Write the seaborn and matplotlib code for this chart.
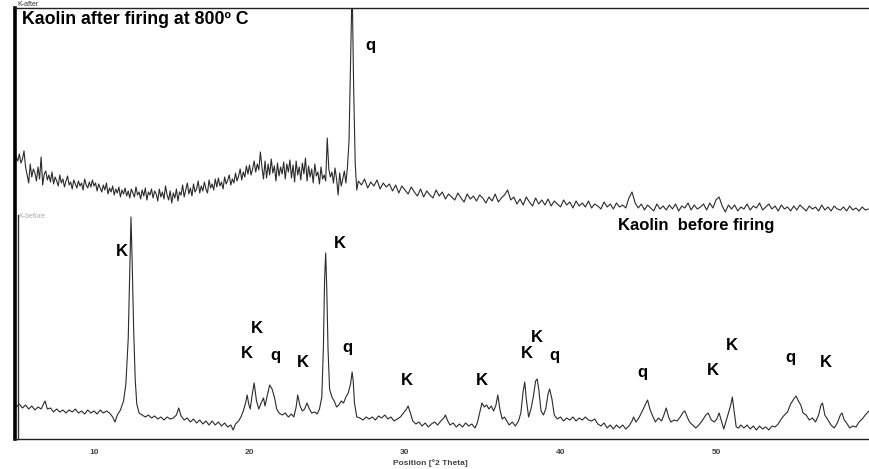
import numpy as np
import pandas as pd
import matplotlib
matplotlib.use("Agg")
import matplotlib.pyplot as plt
import seaborn as sns

# ---------------- data ----------------
# Kaolin before firing: 2-theta (deg) and intensity (arbitrary units)
before_2theta = [5.0, 5.2, 5.4, 5.6, 5.8, 6.0, 6.2, 6.4, 6.6, 6.85, 7.0, 7.2, 7.4, 7.6, 7.8, 8.0, 8.2, 8.4, 8.6, 8.8,
                 9.0, 9.2, 9.4, 9.6, 9.8, 10.0, 10.2, 10.4, 10.6, 10.8, 11.0, 11.2, 11.35, 11.5, 11.7, 11.9, 12.05,
                 12.2, 12.3, 12.38, 12.45, 12.55, 12.65, 12.75, 12.9, 13.1, 13.3, 13.5, 13.7, 13.9, 14.1, 14.3,
                 14.5, 14.7, 14.9, 15.1, 15.3, 15.45, 15.6, 15.8, 16.0, 16.2, 16.4, 16.6, 16.8, 17.0, 17.2, 17.4,
                 17.6, 17.8, 18.0, 18.2, 18.4, 18.6, 18.8, 18.95, 19.1, 19.3, 19.45, 19.6, 19.75, 19.85, 19.95,
                 20.05, 20.15, 20.3, 20.45, 20.6, 20.75, 20.9, 21.0, 21.15, 21.3, 21.45, 21.6, 21.75, 21.9, 22.1,
                 22.3, 22.5, 22.7, 22.85, 23.0, 23.1, 23.25, 23.4, 23.55, 23.7, 23.85, 24.0, 24.2, 24.35, 24.5,
                 24.65, 24.75, 24.83, 24.9, 24.97, 25.05, 25.15, 25.3, 25.45, 25.6, 25.75, 25.9, 26.05, 26.2,
                 26.35, 26.5, 26.6, 26.67, 26.75, 26.9, 27.1, 27.3, 27.5, 27.7, 27.9, 28.1, 28.3, 28.5, 28.7,
                 28.9, 29.1, 29.3, 29.5, 29.7, 29.9, 30.1, 30.2, 30.35, 30.5, 30.7, 30.9, 31.1, 31.3, 31.5, 31.7,
                 31.9, 32.1, 32.3, 32.5, 32.6, 32.75, 32.9, 33.1, 33.3, 33.5, 33.7, 33.9, 34.1, 34.3, 34.5, 34.65,
                 34.8, 34.95, 35.1, 35.25, 35.4, 35.55, 35.7, 35.85, 35.97, 36.1, 36.25, 36.4, 36.55, 36.7, 36.9,
                 37.1, 37.3, 37.45, 37.6, 37.7, 37.8, 37.95, 38.1, 38.25, 38.4, 38.5, 38.6, 38.75, 38.9, 39.05,
                 39.2, 39.3, 39.45, 39.6, 39.8, 40.0, 40.2, 40.4, 40.6, 40.8, 41.0, 41.2, 41.4, 41.6, 41.8, 42.0,
                 42.2, 42.4, 42.6, 42.8, 43.0, 43.2, 43.4, 43.6, 43.8, 44.0, 44.2, 44.4, 44.6, 44.7, 44.85, 45.0,
                 45.2, 45.45, 45.6, 45.75, 45.9, 46.1, 46.3, 46.5, 46.65, 46.8, 46.95, 47.1, 47.3, 47.5, 47.7,
                 47.9, 48.0, 48.15, 48.3, 48.5, 48.7, 48.9, 49.1, 49.35, 49.5, 49.7, 49.9, 50.05, 50.2, 50.35,
                 50.5, 50.65, 50.8, 50.95, 51.05, 51.15, 51.3, 51.45, 51.6, 51.8, 52.0, 52.2, 52.4, 52.6, 52.8,
                 53.0, 53.2, 53.4, 53.6, 53.8, 54.0, 54.2, 54.4, 54.6, 54.8, 55.0, 55.15, 55.3, 55.45, 55.6, 55.8,
                 56.0, 56.2, 56.4, 56.6, 56.75, 56.85, 57.0, 57.2, 57.4, 57.6, 57.8, 58.0, 58.1, 58.25, 58.4,
                 58.6, 58.8, 59.0, 59.2, 59.4, 59.6, 59.84]
before_counts = [32, 35, 31, 34, 30, 33, 29, 32, 30, 38, 30, 31, 27, 30, 27, 29, 26, 29, 27, 30,
                 26, 28, 25, 29, 26, 28, 25, 29, 26, 28, 26, 22, 17, 24, 29, 38, 55,
                 100, 170, 222, 180, 110, 60, 35, 26, 24, 22, 24, 21, 23, 20, 22,
                 19, 22, 20, 21, 24, 31, 23, 19, 21, 17, 20, 16, 19, 15, 18, 14,
                 18, 14, 17, 13, 16, 12, 14, 9, 15, 18, 22, 28, 36, 44, 35,
                 30, 42, 56, 38, 30, 36, 41, 33, 44, 54, 50, 42, 30, 26, 24,
                 26, 22, 25, 22, 32, 44, 33, 28, 30, 36, 30, 26, 27, 25, 30,
                 42, 90, 160, 186, 150, 90, 50, 42, 38, 32, 34, 38, 36, 42,
                 46, 55, 67, 58, 36, 22, 21, 19, 22, 20, 22, 19, 23, 21, 24,
                 20, 22, 18, 20, 22, 26, 30, 33, 26, 18, 15, 17, 13, 16, 12, 15,
                 17, 14, 18, 21, 24, 18, 14, 16, 12, 15, 12, 16, 13, 15, 11, 16,
                 26, 36, 32, 34, 30, 33, 28, 34, 44, 30, 20, 22, 18, 14, 17,
                 13, 18, 26, 48, 57, 40, 22, 30, 42, 58, 60, 50, 28, 24, 30,
                 45, 50, 40, 24, 20, 22, 18, 21, 19, 22, 18, 21, 19, 22, 19, 18,
                 20, 15, 13, 16, 11, 14, 10, 14, 11, 14, 10, 13, 18, 22, 17, 20,
                 26, 34, 39, 30, 24, 17, 21, 18, 24, 31, 22, 17, 19, 18, 22,
                 27, 28, 22, 17, 14, 11, 14, 18, 24, 26, 19, 17, 20, 26, 18,
                 10, 18, 26, 34, 42, 30, 12, 11, 14, 11, 14, 10, 13, 9, 13,
                 10, 12, 9, 13, 12, 15, 20, 24, 27, 35, 40, 43, 38, 34, 26, 24,
                 19, 21, 17, 24, 34, 36, 24, 19, 14, 11, 16, 24, 26, 19, 16,
                 11, 13, 12, 17, 20, 24, 28]

# Kaolin after firing at 800 C: scan grid (fine step up to 27 deg, coarser after) and intensity
after_grid_fine = np.round(np.arange(5.0, 27.0001, 0.1), 2)
after_grid_coarse = np.round(np.arange(27.2, 59.8001, 0.2), 2)
after_counts_fine = [62, 58, 65, 56, 60, 68, 52, 44, 36, 55,
                     42, 50, 46, 38, 52, 40, 62, 34, 45, 48,
                     39, 44, 37, 47, 35, 42, 38, 33, 44, 36,
                     40, 32, 38, 43, 34, 37, 30, 39, 35, 31,
                     38, 33, 36, 29, 40, 34, 31, 37, 32, 39,
                     33, 36, 28, 35, 31, 27, 34, 29, 36, 25,
                     31, 27, 33, 24, 30, 26, 32, 22, 29, 25,
                     31, 23, 28, 21, 30, 26, 22, 32, 24, 27,
                     20, 29, 23, 31, 19, 27, 24, 30, 21, 28,
                     25, 18, 30, 22, 27, 20, 33, 24, 19, 28,
                     16, 26, 21, 30, 18, 27, 24, 34, 22, 29,
                     36, 25, 31, 23, 35, 27, 30, 38, 26, 33,
                     28, 37, 30, 26, 39, 31, 35, 29, 40, 32,
                     41, 33, 37, 30, 42, 35, 39, 44, 34, 40,
                     36, 46, 38, 43, 50, 39, 47, 42, 53, 45,
                     54, 44, 50, 58, 47, 55, 49, 67, 52, 40,
                     58, 41, 55, 44, 60, 46, 53, 38, 56, 43,
                     52, 45, 57, 40, 55, 47, 59, 41, 54, 37,
                     58, 44, 52, 39, 56, 45, 61, 38, 53, 42,
                     50, 36, 55, 43, 47, 35, 52, 40, 44, 38,
                     81, 50, 42, 47, 36, 51, 40, 24, 46, 33,
                     40, 48, 36, 52, 78, 160, 235, 130, 55, 29,
                     38]
after_counts_coarse = [34, 40, 31, 37, 33, 39, 30, 36, 32, 35,
                       28, 34, 26, 33, 29, 25, 32, 27, 23, 30,
                       22, 28, 24, 21, 29, 23, 27, 20, 25, 22,
                       19, 26, 21, 17, 25, 20, 23, 18, 24, 21,
                       16, 22, 18, 25, 17, 21, 24, 29, 19, 22,
                       15, 20, 14, 22, 17, 13, 21, 15, 19, 14,
                       20, 13, 18, 15, 12, 19, 14, 17, 11, 18,
                       13, 16, 12, 18, 11, 15, 13, 10, 17, 12,
                       15, 10, 16, 12, 14, 11, 21, 27, 16, 11,
                       15, 9, 14, 11, 8, 15, 10, 13, 9, 14,
                       10, 15, 8, 13, 11, 16, 9, 14, 10, 12,
                       15, 9, 16, 11, 19, 22, 13, 7, 14, 10,
                       14, 8, 12, 10, 15, 9, 13, 11, 16, 9,
                       12, 15, 10, 13, 8, 14, 10, 12, 8, 13,
                       9, 14, 11, 8, 13, 10, 12, 8, 14, 9,
                       12, 8, 13, 10, 9, 12, 8, 13, 9, 11,
                       8, 12, 9, 10]

# peak labels (K = kaolinite, q = quartz)
peak_labels = ["K", "K", "K", "K", "q", "K", "q", "K", "K", "K", "K", "q", "q", "K", "K", "q", "K"]
peak_label_2theta = [11.80, 25.82, 20.48, 19.84, 21.64, 23.44, 26.33, 30.13, 34.95, 37.85, 38.49, 39.58,
                     45.24, 49.81, 51.03, 54.76, 57.07]
peak_label_level = [188, 196, 111, 86, 84, 77, 92, 59, 59, 86, 102, 84, 67, 69, 94, 82, 77]

x_ticks = [10, 20, 30, 40, 50]
AFTER_OFFSET = 220

# ---------------- figure ----------------
sns.set_style("white")
plt.rcParams["font.family"] = ["Liberation Sans", "DejaVu Sans"]

W, H = 869, 469
fig = plt.figure(figsize=(W / 100, H / 100), dpi=100)
ax = fig.add_axes([15 / W, 1 - 439 / H, 1 - 15 / W, 431 / H])

df_before = pd.DataFrame({"two_theta": before_2theta, "counts": before_counts})
df_after = pd.DataFrame({
    "two_theta": np.concatenate([after_grid_fine, after_grid_coarse]),
    "counts": after_counts_fine + after_counts_coarse,
})
df_after["shifted"] = df_after["counts"] + AFTER_OFFSET

line_col = "#2b2b2b"
sns.lineplot(data=df_before, x="two_theta", y="counts", ax=ax, color=line_col,
             linewidth=0.8, estimator=None, sort=False, errorbar=None)
sns.lineplot(data=df_after, x="two_theta", y="shifted", ax=ax, color=line_col,
             linewidth=0.8, estimator=None, sort=False, errorbar=None)

ax.set_xlim(4.92, 59.84)
ax.set_ylim(0, 431)
ax.set_xlabel("")
ax.set_ylabel("")
ax.set_yticks([])
ax.set_xticks(x_ticks)
ax.set_xticks(np.arange(5, 60, 1), minor=True)
ax.tick_params(axis="x", which="major", direction="out", length=4, width=0.8,
               color="#444444", labelsize=6, labelcolor="#444444", pad=3)
ax.tick_params(axis="x", which="minor", direction="out", length=2.5, width=0.6, color="#666666")
for lbl in ax.get_xticklabels():
    lbl.set_fontweight("bold")

ax.spines["right"].set_visible(False)
ax.spines["left"].set_linewidth(2.6)
ax.spines["left"].set_color("black")
ax.spines["top"].set_linewidth(1.0)
ax.spines["top"].set_color("#222222")
ax.spines["bottom"].set_linewidth(1.0)
ax.spines["bottom"].set_color("#222222")

# secondary scale line for the lower pattern
ax2 = fig.add_axes([18 / W, 1 - 439 / H, 0.0005, 224 / H], facecolor="none")
ax2.set_xticks([])
ax2.set_ylim(0, 224)
ax2.set_yticks([40, 84, 171])
ax2.tick_params(axis="y", direction="in", length=3, width=0.6, labelleft=False)
for s in ["top", "right", "bottom"]:
    ax2.spines[s].set_visible(False)
ax2.spines["left"].set_linewidth(1.0)
ax2.spines["left"].set_color("#333333")

# peak labels
for txt, xv, yv in zip(peak_labels, peak_label_2theta, peak_label_level):
    ax.text(xv, yv, txt, ha="center", va="center", fontsize=12, fontweight="bold", color="black")
ax.text(27.75, 394, "q", ha="center", va="center", fontsize=12, fontweight="bold", color="black")

# sample titles
ax.text(5.37, 420, "Kaolin after firing at 800º C", ha="left", va="center",
        fontsize=12.8, fontweight="bold", color="black")
ax.text(43.70, 214, "Kaolin  before firing", ha="left", va="center",
        fontsize=12, fontweight="bold", color="black")
fig.text(17 / W, 1 - 5 / H, "K-after", ha="left", va="center", fontsize=5, color="#333333")
fig.text(18 / W, 1 - 216 / H, "K-before", ha="left", va="center", fontsize=5, color="#aaaaaa")

fig.text(430 / W, 1 - 463 / H, "Position [°2 Theta]", ha="center", va="center",
         fontsize=6, fontweight="bold", color="#444444")

fig.savefig("out.png", dpi=100)
